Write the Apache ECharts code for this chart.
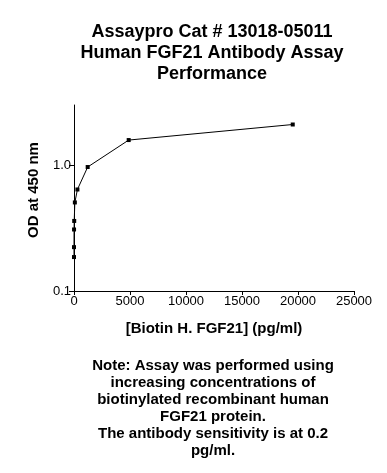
<!DOCTYPE html>
<html>
<head>
<meta charset="utf-8">
<script src="https://cdn.jsdelivr.net/npm/echarts@6/dist/echarts.min.js"></script>
<style>
html,body{margin:0;padding:0;background:#fff;}
#chart{width:387px;height:473px;}
</style>
</head>
<body>
<div id="chart"></div>
<script>
const titleLines = ['Assaypro Cat # 13018-05011', 'Human FGF21 Antibody Assay', 'Performance'];
const noteLines = ['Note: Assay was performed using', 'increasing concentrations of', 'biotinylated recombinant human', 'FGF21 protein.', 'The antibody sensitivity is at 0.2', 'pg/ml.'];
const xAxisName = '[Biotin H. FGF21] (pg/ml)';
const yAxisName = 'OD at 450 nm';
const concentrations = [19531, 4883, 1221, 305, 76, 19, 4.8, 1.2, 0.3];
const odValues = [2.10, 1.58, 0.965, 0.64, 0.505, 0.36, 0.308, 0.223, 0.186];
const yTickValues = [0.1, 1];
const yTickLabels = ['0.1', '1.0'];

const font = 'Arial, "Liberation Sans", sans-serif';
const chart = echarts.init(document.getElementById('chart'), null, {renderer: 'canvas'});
chart.setOption({
  animation: false,
  backgroundColor: '#fff',
  grid: {left: 74, right: 33, top: 105, bottom: 182, containLabel: false},
  xAxis: {
    type: 'value', min: 0, max: 25000, interval: 5000,
    axisLine: {show: true, lineStyle: {color: '#000', width: 1}},
    axisTick: {show: true, length: 4, lineStyle: {color: '#000'}},
    axisLabel: {color: '#000', fontFamily: font, fontSize: 13, margin: 4,
      formatter: function (v) { return String(v); }},
    splitLine: {show: false},
    name: xAxisName, nameLocation: 'middle', nameGap: 30,
    nameTextStyle: {color: '#000', fontFamily: font, fontSize: 15, fontWeight: 'bold'}
  },
  yAxis: {
    type: 'log', logBase: 10, min: 0.1, max: 3,
    axisLine: {show: true, lineStyle: {color: '#000', width: 1}},
    axisTick: {show: true, length: 5, customValues: yTickValues, lineStyle: {color: '#000'}},
    axisLabel: {color: '#000', fontFamily: font, fontSize: 13, margin: 3,
      customValues: yTickValues,
      formatter: function (v) {
        for (let i = 0; i < yTickValues.length; i++) {
          if (Math.abs(v - yTickValues[i]) < 1e-6) return yTickLabels[i];
        }
        return '';
      }},
    splitLine: {show: false},
    name: yAxisName, nameLocation: 'middle', nameGap: 33, nameRotate: 90,
    nameTextStyle: {color: '#000', fontFamily: font, fontSize: 15, fontWeight: 'bold', padding: [0, 0, 0, 16]}
  },
  series: [{
    type: 'line',
    data: concentrations.map((c, i) => [c, odValues[i]]),
    symbol: 'rect', symbolSize: 4, showAllSymbol: true,
    lineStyle: {color: '#000', width: 1},
    itemStyle: {color: '#000'},
    clip: false
  }],
  graphic: [
    {type: 'text', x: 212, y: 22, style: {
      text: titleLines.join('\n'), fill: '#000', font: 'bold 18px ' + font,
      lineHeight: 21, textAlign: 'center'}},
    {type: 'text', x: 213, y: 357, style: {
      text: noteLines.join('\n'), fill: '#000', font: 'bold 15px ' + font,
      lineHeight: 17, textAlign: 'center'}}
  ]
});
</script>
</body>
</html>
